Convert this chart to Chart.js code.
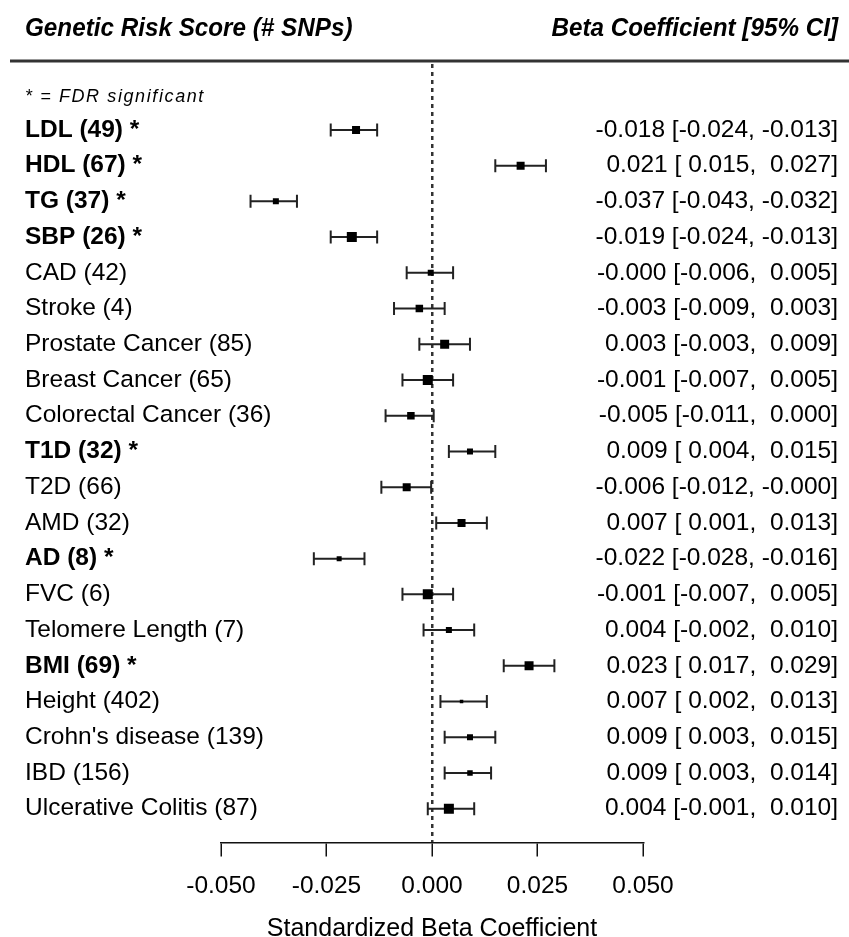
<!DOCTYPE html>
<html>
<head>
<meta charset="utf-8">
<script src="https://cdn.jsdelivr.net/npm/chart.js@4"></script>
<style>
  html, body { margin: 0; padding: 0; background: #fff; }
  #wrap { width: 849px; height: 937px; position: relative; }
</style>
</head>
<body>
<div id="wrap"><canvas id="c" width="849" height="937"></canvas></div>
<script>
// ---- data ----
const labels = ['LDL (49) *','HDL (67) *','TG (37) *','SBP (26) *','CAD (42)','Stroke (4)',
  'Prostate Cancer (85)','Breast Cancer (65)','Colorectal Cancer (36)','T1D (32) *','T2D (66)',
  'AMD (32)','AD (8) *','FVC (6)','Telomere Length (7)','BMI (69) *','Height (402)',
  "Crohn's disease (139)",'IBD (156)','Ulcerative Colitis (87)'];
const significant = [1,1,1,1,0,0,0,0,0,1,0,0,1,0,0,1,0,0,0,0];
const beta  = [-0.018,0.021,-0.037,-0.019,-0.0003,-0.003,0.003,-0.001,-0.005,0.009,-0.006,0.007,-0.022,-0.001,0.004,0.023,0.007,0.009,0.009,0.004];
const lower = [-0.024,0.015,-0.043,-0.024,-0.006,-0.009,-0.003,-0.007,-0.011,0.004,-0.012,0.001,-0.028,-0.007,-0.002,0.017,0.002,0.003,0.003,-0.001];
const upper = [-0.013,0.027,-0.032,-0.013,0.005,0.003,0.009,0.005,0.0004,0.015,-0.0002,0.013,-0.016,0.005,0.010,0.029,0.013,0.015,0.014,0.010];
const weight = [8,8,6,10,6,7.5,9,10,7.5,6,8,8,5,10,6,9,3.5,6,5.5,10]; // marker side (relative weight)
const xTicks = [-0.05,-0.025,0,0.025,0.05];
const headerLeft = 'Genetic Risk Score (# SNPs)';
const headerRight = 'Beta Coefficient [95% CI]';
const note = '* = FDR significant';
const xTitle = 'Standardized Beta Coefficient';

// ---- helpers ----
const fmt = v => { const s = v.toFixed(3); return s.length < 6 ? ' ' + s : s; };
const ciText = beta.map((b, i) => fmt(b).trim() + ' [' + fmt(lower[i]) + ', ' + fmt(upper[i]) + ']');
const rowIdx = labels.map((_, i) => i);

const FONT = "'Liberation Sans', Arial, sans-serif";
const FS = 24.5;

const pointData = beta.map((b, i) => ({x: b, y: i}));
const ciData = [];
lower.forEach((lo, i) => { ciData.push({x: lo, y: i}, {x: upper[i], y: i}, {x: null, y: null}); });

const headerPlugin = {
  id: 'header',
  afterDraw(chart) {
    const ctx = chart.ctx;
    ctx.save();
    ctx.fillStyle = '#000';
    ctx.textBaseline = 'middle';
    ctx.font = "bold italic 25px " + FONT;
    ctx.save();
    ctx.translate(25, 29); ctx.scale(0.97, 1);
    ctx.textAlign = 'left';
    ctx.fillText(headerLeft, 0, 0);
    ctx.restore();
    ctx.save();
    ctx.translate(838, 29); ctx.scale(0.97, 1);
    ctx.textAlign = 'right';
    ctx.fillText(headerRight, 0, 0);
    ctx.restore();
    ctx.strokeStyle = '#333';
    ctx.lineWidth = 3;
    ctx.beginPath(); ctx.moveTo(10, 61); ctx.lineTo(849, 61); ctx.stroke();
    ctx.font = "italic 18px " + FONT;
    try { ctx.letterSpacing = '1.6px'; } catch (e) {}
    ctx.textAlign = 'left';
    ctx.fillText(note, 25, 97);
    ctx.restore();
  }
};

const noPad = s => { s.paddingTop = 0; s.paddingBottom = 0; };
const rowScaleBase = {
  type: 'linear', min: -1.845, max: 19.945, reverse: true,
  grid: { display: false }, border: { display: false },
  afterBuildTicks: s => { s.ticks = rowIdx.map(v => ({value: v})); },
};

new Chart(document.getElementById('c'), {
  type: 'scatter',
  data: {
    datasets: [
      { data: pointData, pointStyle: 'rect', pointRadius: weight.map(w => w / Math.SQRT2),
        backgroundColor: '#000', borderWidth: 0, yAxisID: 'y' },
      { data: ciData, showLine: true, spanGaps: false, borderColor: '#222', borderWidth: 2,
        pointStyle: 'line', rotation: 90, pointRadius: 6.5, pointBorderColor: '#222',
        pointBorderWidth: 2, yAxisID: 'y' }
    ]
  },
  options: {
    responsive: false, animation: false, events: [],
    layout: { padding: { left: 0, right: 0, top: 64, bottom: 0 } },
    plugins: { legend: { display: false }, tooltip: { enabled: false } },
    scales: {
      x: {
        type: 'linear', min: -0.05, max: 0.05,
        afterBuildTicks: s => { s.ticks = xTicks.map(v => ({value: v})); },
        afterFit: s => { s.height = 94.5; s.paddingLeft = 0; s.paddingRight = 0; },
        grid: {
          drawOnChartArea: true, drawTicks: true, tickLength: 14,
          color: c => (c.tick && c.tick.value === 0) ? '#333' : 'rgba(0,0,0,0)',
          lineWidth: 2.5, tickColor: '#111', tickWidth: 1.5
        },
        border: { display: true, color: '#111', width: 1.5, dash: [4, 4] },
        ticks: { color: '#000', font: { family: FONT, size: FS }, padding: 15,
          callback: v => v.toFixed(3) },
        title: { display: true, text: xTitle, color: '#000',
          font: { family: FONT, size: 25, lineHeight: 0.6 }, padding: { top: 0, bottom: 0 } }
      },
      y: Object.assign({}, rowScaleBase, {
        position: 'left',
        afterFit: s => { s.width = 221; noPad(s); },
        ticks: { mirror: true, crossAlign: 'near', autoSkip: false, color: '#000', padding: -196,
          font: c => ({ family: FONT, size: FS, weight: significant[c.index] ? 'bold' : 'normal' }),
          callback: (v, i) => labels[i] }
      }),
      y2: Object.assign({}, rowScaleBase, {
        position: 'right',
        afterFit: s => { s.width = 206; noPad(s); },
        ticks: { mirror: true, crossAlign: 'near', autoSkip: false, color: '#000', padding: 195,
          font: { family: FONT, size: FS }, callback: (v, i) => ciText[i] }
      })
    }
  },
  plugins: [headerPlugin]
});
</script>
</body>
</html>
